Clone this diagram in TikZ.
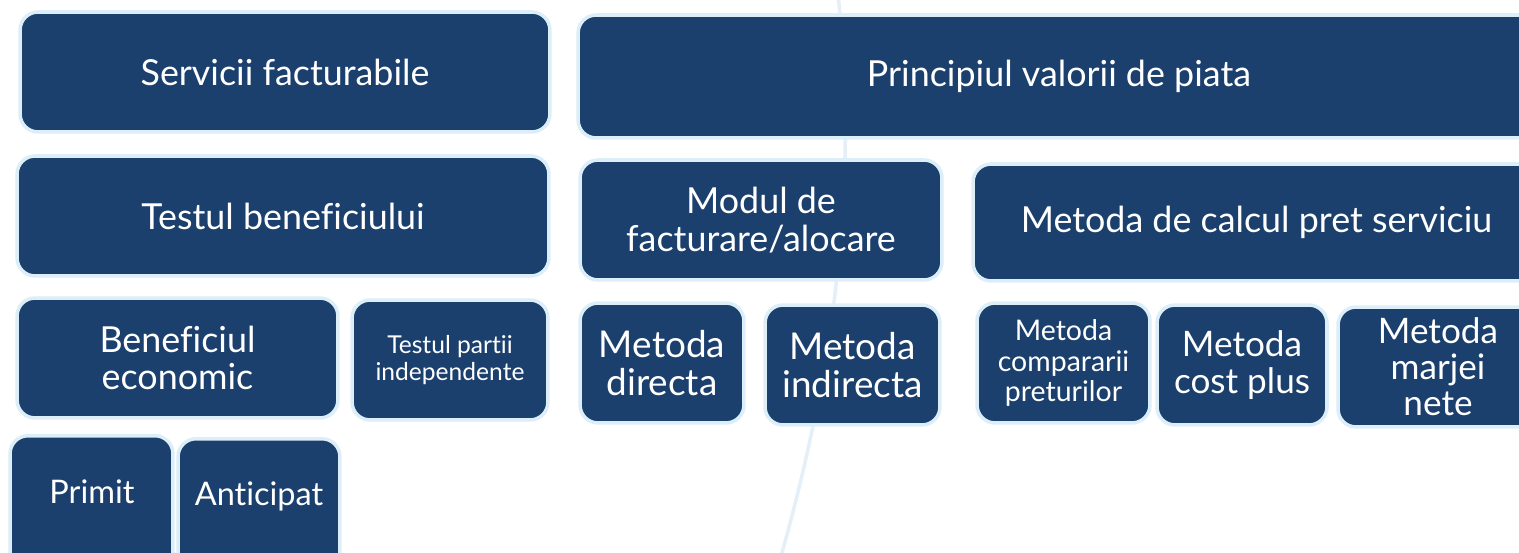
\documentclass[tikz,border=0pt]{standalone}
\usepackage{fontspec}
\setmainfont{Lato}[Ligatures=NoCommon]
\usepackage{xcolor}
\usetikzlibrary{positioning, calc}

\definecolor{boxblue}{HTML}{1B406E}
\definecolor{boxedge}{HTML}{DCEEF8}
\definecolor{arcblue}{HTML}{E4EFF8}

\tikzset{
  tbox/.style={draw=boxedge, line width=2pt, fill=boxblue, rounded corners=0.36cm,
    inner sep=0pt, text=white, align=center, minimum height=2.4cm,
    font=\fontsize{20.4}{21.5}\selectfont},
  smallbox/.style={tbox, font=\fontsize{14}{15}\selectfont},
  midbox/.style={tbox, font=\fontsize{16.2}{17.5}\selectfont},
  boxtext/.style={text=white, align=center, inner sep=0pt},
  arcline/.style={arcblue, line width=2pt}
}

\begin{document}
\begin{tikzpicture}[x=0.02cm, y=-0.02cm]
        \useasboundingbox (0,0) rectangle (1519,553);
        \clip (0,0) rectangle (1519,553);

        % background arc
        \draw[arcline] (838,-5) .. controls (855,150) and (845,330) .. (780,560);

        % top row
        \node[tbox, minimum width=10.6cm] (serv) at (285,72) {Servicii facturabile};
        \node[tbox, minimum width=19.24cm, minimum height=2.46cm] (princ) at (1059,76.5) {Principiul valorii de piata};

        % second row
        \node[tbox, minimum width=10.64cm] (test) at (283,216) {Testul beneficiului};
        \node[tbox, minimum width=7.24cm] (modul) at (761,220) {Modul de\\facturare/alocare};
        \node[tbox, minimum width=11.34cm, minimum height=2.34cm] (metcalc) at (1256.5,222.5) {Metoda de calcul pret serviciu};

        % third row
        \node[tbox, minimum width=6.42cm] (benef) at (177.5,358) {Beneficiul\\economic};
        \node[smallbox, minimum width=3.92cm] (partii) at (450,360) {Testul partii\\independente};
        \node[tbox, font=\fontsize{21}{22}\selectfont, minimum width=3.28cm] (direct) at (662,363) {Metoda\\directa};
        \node[tbox, font=\fontsize{21}{22}\selectfont, minimum width=3.5cm] (indirect) at (852.5,365) {Metoda\\indirecta};
        \node[midbox, minimum width=3.46cm] (compar) at (1063.5,363) {Metoda\\compararii\\preturilor};
        \node[tbox, font=\fontsize{20}{21}\selectfont, minimum width=3.4cm] (cost) at (1242,365) {Metoda\\cost plus};
        \node[tbox, font=\fontsize{20}{20.5}\selectfont, minimum width=4cm] (marja) at (1438,367) {Metoda\\marjei\\nete};

        % bottom row, cut by the lower edge
        \node[tbox, minimum width=3.26cm, minimum height=3.3cm, anchor=north] (primit) at (91.5,434) {};
        \node[boxtext, font=\fontsize{18.5}{20}\selectfont] (primittxt) at (92,492) {Primit};
        \node[tbox, minimum width=3.24cm, minimum height=3.3cm, anchor=north] (anticip) at (259,437) {};
        \node[boxtext, font=\fontsize{18.5}{20}\selectfont] (anticiptxt) at (259,496) {Anticipat};
\end{tikzpicture}
\end{document}
